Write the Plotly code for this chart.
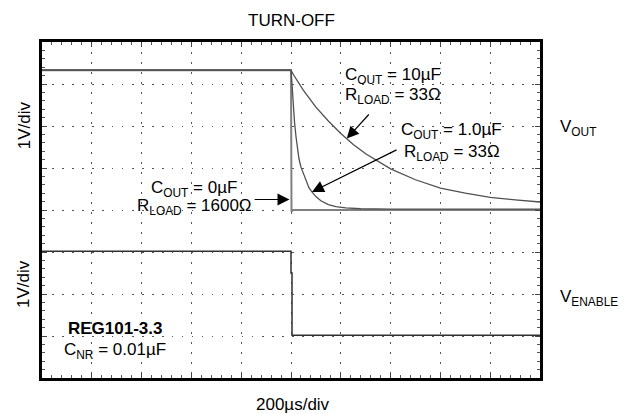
import plotly.graph_objects as go

# Time in divisions (200 us/div), voltage in divisions (1 V/div)
t_0uF = [0, 5.0, 5.01, 5.04, 10.0]
v_0uF = [7.33, 7.33, 3.96, 4.0, 4.0]

t_1uF = [0, 5.0, 5.02, 5.04, 5.07, 5.10, 5.13, 5.16, 5.20, 5.25, 5.30, 5.36,
         5.42, 5.50, 5.60, 5.75, 5.90, 6.10, 6.40, 7.0, 10.0]
v_1uF = [7.33, 7.33, 7.0, 6.6, 6.1, 5.75, 5.45, 5.22, 5.02, 4.85, 4.68, 4.53,
         4.43, 4.32, 4.22, 4.13, 4.08, 4.05, 4.03, 4.02, 4.02]

t_10uF = [0, 5.0, 5.05, 5.1, 5.25, 5.5, 5.75, 6.0, 6.25, 6.5, 6.75, 7.0,
          7.5, 8.0, 8.5, 9.0, 9.5, 10.0]
v_10uF = [7.33, 7.33, 7.22, 7.12, 6.85, 6.45, 6.12, 5.82, 5.56, 5.34, 5.15, 4.98,
          4.72, 4.52, 4.40, 4.30, 4.24, 4.19]

t_enable = [0, 5.0, 5.0, 5.02, 5.02, 10.0]
v_enable = [3.02, 3.02, 2.5, 2.5, 1.02, 1.02]

X_DIVS = 10
Y_DIVS = 8

FONT = "Liberation Sans, Arial, sans-serif"
FS = 17

fig = go.Figure()
fig.add_trace(go.Scatter(x=t_0uF, y=v_0uF, mode="lines",
                         line=dict(color="#808080", width=2), showlegend=False))
fig.add_trace(go.Scatter(x=t_1uF, y=v_1uF, mode="lines",
                         line=dict(color="#505050", width=1.3), showlegend=False))
fig.add_trace(go.Scatter(x=t_10uF, y=v_10uF, mode="lines",
                         line=dict(color="#505050", width=1.3), showlegend=False))
fig.add_trace(go.Scatter(x=t_enable, y=v_enable, mode="lines",
                         line=dict(color="#303030", width=1.5), showlegend=False))

axis_common = dict(
    showticklabels=False, showline=True, linecolor="black", linewidth=3,
    mirror="allticks", ticks="inside", ticklen=5, tickcolor="#444", tickwidth=1,
    showgrid=True, gridcolor="#555", gridwidth=1.2, griddash="1.5px,8.5px",
    zeroline=False, dtick=1,
    minor=dict(ticks="inside", ticklen=3, dtick=0.2, tickcolor="#555", showgrid=False),
)
fig.update_xaxes(range=[0, X_DIVS], tick0=0, **axis_common)
fig.update_yaxes(range=[0, Y_DIVS], tick0=0, **axis_common)


def txt(x, y, s, xanchor="center", bold=False, angle=0, outside=False):
    if bold:
        s = "<b>" + s + "</b>"
    if outside:
        ref = dict(x=x / X_DIVS, y=y / Y_DIVS, xref="paper", yref="paper")
    else:
        ref = dict(x=x, y=y, xref="x", yref="y")
    fig.add_annotation(**ref, text=s, showarrow=False,
                       xanchor=xanchor, yanchor="middle", textangle=angle,
                       font=dict(family=FONT, size=FS, color="black"))


def arrow(x0, y0, x1, y1):
    fig.add_annotation(x=x1, y=y1, ax=x0, ay=y0, xref="x", yref="y",
                       axref="x", ayref="y", text="", showarrow=True,
                       arrowhead=2, arrowsize=2, arrowwidth=1.2, arrowcolor="black")


# Labels around the plot
txt(5.02, 8.52, "TURN-OFF", outside=True)
txt(5.04, -0.64, "200µs/div", outside=True)
txt(-0.36, 6.02, "1V/div", angle=-90, outside=True)
txt(-0.36, 2.24, "1V/div", angle=-90, outside=True)
txt(10.36, 5.95, "V<sub>OUT</sub>", xanchor="left", outside=True)
txt(10.36, 1.90, "V<sub>ENABLE</sub>", xanchor="left", outside=True)

# Curve annotations
txt(6.04, 7.18, "C<sub>OUT</sub> = 10µF", xanchor="left")
txt(6.04, 6.72, "R<sub>LOAD</sub> = 33Ω", xanchor="left")
arrow(6.59, 6.31, 6.12, 5.70)

txt(8.23, 5.88, "C<sub>OUT</sub> = 1.0µF")
txt(8.23, 5.36, "R<sub>LOAD</sub> = 33Ω")
arrow(7.15, 5.45, 5.42, 4.43)

txt(3.05, 4.5, "C<sub>OUT</sub> = 0µF")
txt(3.07, 4.06, "R<sub>LOAD</sub> = 1600Ω")
arrow(4.24, 4.25, 4.97, 4.25)

txt(1.47, 1.17, "REG101-3.3", bold=True)
txt(1.47, 0.65, "C<sub>NR</sub> = 0.01µF")

# Page body has an 8px margin, so the figure is sized to fit the 636x414 window
fig.update_layout(
    width=628, height=406,
    margin=dict(l=34, r=96, t=34, b=36),
    paper_bgcolor="white", plot_bgcolor="white",
    font=dict(family=FONT, size=FS, color="black"),
)

fig.write_html("out.html")
